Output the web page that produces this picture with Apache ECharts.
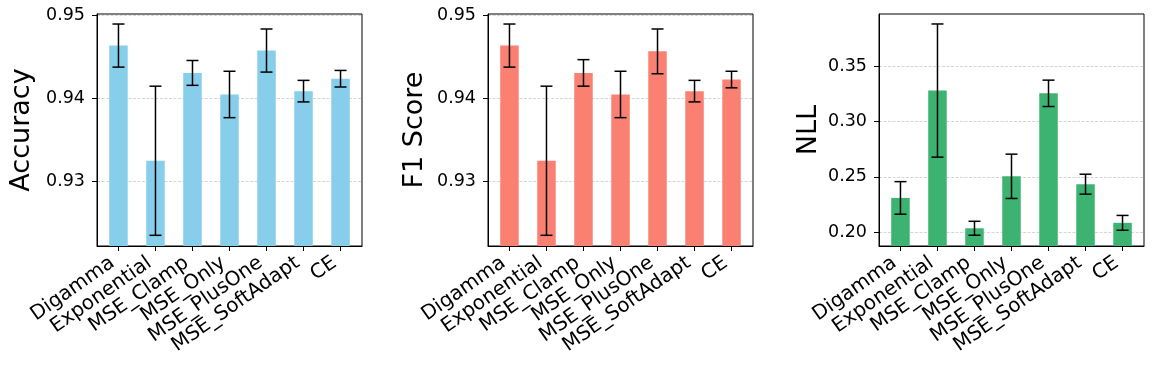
<!DOCTYPE html>
<html>
<head>
<meta charset="utf-8">
<script src="https://cdn.jsdelivr.net/npm/echarts@6/dist/echarts.min.js"></script>
<style>
html,body{margin:0;padding:0;background:#fff;}
#main{width:1153px;height:366px;}
</style>
</head>
<body>
<div id="main"></div>
<script>
// ---- data ----
const categories = ['Digamma','Exponential','MSE_Clamp','MSE_Only','MSE_PlusOne','MSE_SoftAdapt','CE'];
const accuracyMean = [0.9464, 0.9325, 0.9431, 0.9405, 0.9458, 0.9409, 0.9424];
const accuracyErr  = [0.0026, 0.0090, 0.0015, 0.0028, 0.0026, 0.0013, 0.0010];
const f1Mean = [0.9464, 0.9325, 0.9431, 0.9405, 0.9457, 0.9409, 0.9423];
const f1Err  = [0.0026, 0.0090, 0.0016, 0.0028, 0.0027, 0.0013, 0.0010];
const nllMean = [0.2310, 0.3279, 0.2036, 0.2505, 0.3254, 0.2434, 0.2085];
const nllErr  = [0.0147, 0.0601, 0.0063, 0.0200, 0.0119, 0.0090, 0.0067];
const yTicksAcc = [0.93, 0.94, 0.95];
const yTicksF1  = [0.93, 0.94, 0.95];
const yTicksNll = [0.20, 0.25, 0.30, 0.35];

// ---- panels ----
const panels = [
  {name:'Accuracy', mean:accuracyMean, err:accuracyErr, ticks:yTicksAcc, color:'#87CEEB', min:0.92221, max:0.95021, left:97,  gap:62},
  {name:'F1 Score', mean:f1Mean, err:f1Err, ticks:yTicksF1, color:'#FA8072', min:0.92221, max:0.95021, left:488, gap:60},
  {name:'NLL', mean:nllMean, err:nllErr, ticks:yTicksNll, color:'#3CB371', min:0.1876, max:0.3970, left:879, gap:57}
];

const FONT = 'DejaVu Sans';
const idx = categories.map((c,i)=>i);
const labelShift = -0.16;

const grids = [], xAxes = [], yAxes = [], series = [];
panels.forEach((p, k) => {
  grids.push({left:p.left, top:14, width:265, height:232, show:true, borderColor:'#000', borderWidth:1, backgroundColor:'transparent'});
  xAxes.push({
    type:'value', gridIndex:k, min:-0.58, max:6.58,
    axisLine:{show:true, onZero:false, lineStyle:{color:'#000', width:1}},
    axisTick:{show:true, inside:false, length:5, lineStyle:{color:'#000', width:1}, customValues:idx},
    axisLabel:{show:true, rotate:35, margin:15, fontSize:20, fontFamily:FONT, color:'#000',
      customValues: idx.map(i => i + labelShift),
      formatter: v => categories[Math.round(v - labelShift)]},
    splitLine:{show:false}
  });
  yAxes.push({
    type:'value', gridIndex:k, min:p.min, max:p.max,
    name:p.name, nameLocation:'middle', nameGap:p.gap, nameRotate:90,
    nameTextStyle:{fontSize:27, fontFamily:FONT, color:'#000'},
    axisLine:{show:true, onZero:false, lineStyle:{color:'#000', width:1}},
    axisTick:{show:true, inside:false, length:5, lineStyle:{color:'#000', width:1}, customValues:p.ticks},
    axisLabel:{show:true, margin:12, fontSize:17.5, fontFamily:FONT, color:'#000',
      customValues:p.ticks, formatter: v => v.toFixed(2)},
    splitLine:{show:true, lineStyle:{color:'#cccccc', width:0.8, type:[3,1.5]}}
  });
  series.push({
    type:'bar', xAxisIndex:k, yAxisIndex:k, barWidth:18.5,
    itemStyle:{color:p.color}, silent:true, animation:false,
    data: p.mean.map((v,i)=>[i, v])
  });
  series.push({
    type:'custom', xAxisIndex:k, yAxisIndex:k, silent:true, animation:false, z:5,
    data: p.mean.map((v,i)=>[i, v - p.err[i], v + p.err[i]]),
    renderItem: (params, api) => {
      const x = api.value(0);
      const lo = api.coord([x, api.value(1)]);
      const hi = api.coord([x, api.value(2)]);
      const cw = 6;
      const st = {stroke:'#000', lineWidth:1.5};
      return {type:'group', children:[
        {type:'line', shape:{x1:lo[0], y1:lo[1], x2:hi[0], y2:hi[1]}, style:st},
        {type:'line', shape:{x1:lo[0]-cw, y1:lo[1], x2:lo[0]+cw, y2:lo[1]}, style:st},
        {type:'line', shape:{x1:hi[0]-cw, y1:hi[1], x2:hi[0]+cw, y2:hi[1]}, style:st}
      ]};
    }
  });
});

const chart = echarts.init(document.getElementById('main'), null, {renderer:'canvas'});
chart.setOption({
  backgroundColor:'#fff', animation:false,
  grid:grids, xAxis:xAxes, yAxis:yAxes, series:series
});
</script>
</body>
</html>
